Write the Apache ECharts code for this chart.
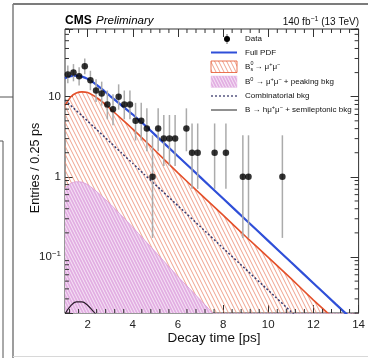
<!DOCTYPE html>
<html>
<head>
<meta charset="utf-8">
<script src="https://cdn.jsdelivr.net/npm/echarts@6.0.0/dist/echarts.min.js"></script>
<style>
  html, body { margin: 0; padding: 0; background: #fff; }
  #chart { width: 368px; height: 358px; }
</style>
</head>
<body>
<div id="chart"></div>
<script>
// Binned data: bin centres (0.25 ps bins) and entries per bin
const binCentres = [1.125, 1.375, 1.625, 1.875, 2.125, 2.375, 2.625, 2.875, 3.125, 3.375,
                    3.625, 3.875, 4.125, 4.375, 4.625, 4.875, 5.125, 5.375, 5.625, 5.875,
                    6.375, 6.625, 6.875, 7.625, 8.125, 8.875, 9.125, 10.625];
const entries = [19, 20, 18, 24, 16, 12, 11, 8, 7, 10,
                 8, 8, 5, 5, 4, 1, 4, 3, 3, 3,
                 4, 2, 2, 2, 2, 1, 1, 1];
// 68% Poisson interval of each bin
const errLow = [14.72, 15.57, 13.77, 19.13, 12.06, 8.585, 7.734, 5.232, 4.419, 6.891,
                5.232, 5.232, 2.840, 2.840, 2.086, 0.173, 2.086, 1.367, 1.367, 1.367,
                2.086, 0.708, 0.708, 0.708, 0.708, 0.173, 0.173, 0.173];
const errHigh = [24.44, 25.54, 23.33, 29.97, 21.08, 16.56, 15.42, 11.95, 10.77, 14.27,
                 11.95, 11.95, 8.382, 8.382, 7.163, 3.300, 7.163, 5.918, 5.918, 5.918,
                 7.163, 4.638, 4.638, 4.638, 4.638, 3.300, 3.300, 3.300];

// Fit components, sampled along the decay time
const pdfTime       = [1, 1.25, 1.5, 1.75, 2, 2.25, 2.5, 2.75, 3, 3.5, 4, 4.5, 5, 6, 7, 8, 9, 10, 11, 12, 13, 14];
const fullPdf       = [17.0, 18.0, 18.3, 17.8, 16.7, 15.1, 13.4, 11.7, 10.2, 7.8, 6.0, 4.5, 3.32,
                       1.81, 0.985, 0.536, 0.292, 0.159, 0.0865, 0.0471, 0.0256, 0.0140];
const bsSignal      = [7.8, 9.9, 11.1, 11.5, 11.3, 10.4, 9.3, 8.2, 7.1, 5.3, 3.95, 2.9, 2.12,
                       1.12, 0.61, 0.333, 0.18, 0.099, 0.054, 0.029, 0.016, 0.0087];
const b0Peaking     = [0.72, 0.83, 0.87, 0.86, 0.80, 0.71, 0.62, 0.535, 0.46, 0.33, 0.235, 0.165, 0.116,
                       0.057, 0.029, 0.0145, 0.0073, 0.0037, 0.0018, 0.0009, 0.00046, 0.00023];
const combinatorial = [9.1, 7.8, 6.7, 5.8, 4.97, 4.27, 3.67, 3.15, 2.70, 1.99, 1.47, 1.08, 0.80,
                       0.436, 0.238, 0.129, 0.0705, 0.0384, 0.0209, 0.0114, 0.0062, 0.0034];
const semilepTime   = [1, 1.25, 1.5, 1.75, 2, 2.25, 2.5];
const semileptonic  = [0.0195, 0.0245, 0.0275, 0.0275, 0.025, 0.021, 0.0175];

// Axis ticks
const xMajorTicks = [2, 4, 6, 8, 10, 12, 14];
const X_MIN = 1, X_MAX = 14, Y_MIN = 0.02, Y_MAX = 70;

const xMinorTicks = [];
for (let t = 1.2; t < X_MAX - 1e-6; t += 0.4) {
  const r = Math.round(t * 10) / 10;
  if (Math.abs(r / 2 - Math.round(r / 2)) > 1e-6) xMinorTicks.push(r);
}
const yMinorTicks = [];
for (let k = -2; k <= 1; k++) {
  for (let m = 2; m <= 9; m++) {
    const v = m * Math.pow(10, k);
    if (v >= Y_MIN - 1e-9 && v <= Y_MAX + 1e-9) yMinorTicks.push(v);
  }
}

const F = "'Liberation Sans', Arial, Helvetica, sans-serif";
const FRAME = '#333';
const LEG_FS = 8;

function pair(xs, ys) { return xs.map((x, i) => [x, ys[i]]); }

// Diagonal stripe tile used as a fill pattern
function stripeTile(w, h, stroke, lineWidth, bg) {
  const c = document.createElement('canvas');
  c.width = w; c.height = h;
  const g = c.getContext('2d');
  if (bg) { g.fillStyle = bg; g.fillRect(0, 0, w, h); }
  g.strokeStyle = stroke; g.lineWidth = lineWidth;
  for (const x0 of [-w, 0, w]) {
    g.beginPath(); g.moveTo(x0, 0); g.lineTo(x0 + w, h); g.stroke();
  }
  return c;
}
const redHatch = { image: stripeTile(4, 8, '#ec8a70', 0.8), repeat: 'repeat' };
const pinkHatch = { image: stripeTile(3, 6, '#f6e6f6', 1, '#e2aee2'), repeat: 'repeat' };

function yLabel(v) {
  const e = Math.log10(v);
  if (Math.abs(e - Math.round(e)) > 1e-6) return '';
  const k = Math.round(e);
  if (k === 0) return '1';
  if (k === 1) return '10';
  return '10{sup|' + String(k).replace('-', '\u2212') + '}';
}

function errorBar(params, api) {
  const t = api.value(0);
  const lo = api.coord([t, api.value(1)]);
  const hi = api.coord([t, api.value(2)]);
  return { type: 'line', shape: { x1: lo[0], y1: lo[1], x2: hi[0], y2: hi[1] },
           style: { stroke: '#ababab', lineWidth: 1.5 } };
}
function xMinorTick(params, api) {
  const t = api.value(0);
  const b = api.coord([t, Y_MIN]);
  const tp = api.coord([t, Y_MAX]);
  const st = { stroke: FRAME, lineWidth: 1 };
  return { type: 'group', children: [
    { type: 'line', shape: { x1: b[0], y1: b[1], x2: b[0], y2: b[1] - 4 }, style: st },
    { type: 'line', shape: { x1: tp[0], y1: tp[1], x2: tp[0], y2: tp[1] + 4 }, style: st }
  ] };
}
function yMinorTick(params, api) {
  const v = api.value(1);
  const l = api.coord([X_MIN, v]);
  const r = api.coord([X_MAX, v]);
  const st = { stroke: FRAME, lineWidth: 1 };
  return { type: 'group', children: [
    { type: 'line', shape: { x1: l[0], y1: l[1], x2: l[0] + 4, y2: l[1] }, style: st },
    { type: 'line', shape: { x1: r[0], y1: r[1], x2: r[0] - 4, y2: r[1] }, style: st }
  ] };
}

const supStyle = { fontSize: 5.6, fontFamily: F, fill: '#111', verticalAlign: 'top', lineHeight: 6 };
const legendText = (y, text) => ({
  type: 'text', x: 245, y: y,
  style: { text: text, fontSize: LEG_FS, fontFamily: F, fill: '#111', verticalAlign: 'middle',
           lineHeight: 11, rich: { sup: supStyle } }
});

const curveLine = { symbol: 'none', smooth: 0.15, clip: true };

const chart = echarts.init(document.getElementById('chart'), null, { renderer: 'canvas' });
chart.setOption({
  animation: false,
  textStyle: { fontFamily: F },
  grid: { left: 65, top: 29, width: 294, height: 284, show: true, borderColor: FRAME, borderWidth: 1,
          backgroundColor: 'transparent' },
  xAxis: [
    { type: 'value', min: X_MIN, max: X_MAX, position: 'bottom',
      axisLine: { show: false }, splitLine: { show: false },
      axisTick: { inside: true, length: 8, customValues: xMajorTicks, lineStyle: { color: FRAME } },
      axisLabel: { customValues: xMajorTicks, fontSize: 11.5, color: '#222', margin: 6, fontFamily: F } },
    { type: 'value', min: X_MIN, max: X_MAX, position: 'top',
      axisLine: { show: false }, splitLine: { show: false },
      axisTick: { inside: true, length: 8, customValues: xMajorTicks, lineStyle: { color: FRAME } },
      axisLabel: { show: false } }
  ],
  yAxis: [
    { type: 'log', logBase: 10, min: Y_MIN, max: Y_MAX, position: 'left',
      axisLine: { show: false }, splitLine: { show: false },
      axisTick: { inside: true, length: 8, lineStyle: { color: FRAME } },
      axisLabel: { formatter: yLabel, fontSize: 11.5, color: '#222', margin: 4, fontFamily: F, lineHeight: 14,
                   rich: { sup: { fontSize: 8, fontFamily: F, color: '#222', verticalAlign: 'top', lineHeight: 8 } } } },
    { type: 'log', logBase: 10, min: Y_MIN, max: Y_MAX, position: 'right',
      axisLine: { show: false }, splitLine: { show: false },
      axisTick: { inside: true, length: 8, lineStyle: { color: FRAME } },
      axisLabel: { show: false } }
  ],
  series: [
    Object.assign({ name: 'Bs signal', type: 'line', data: pair(pdfTime, bsSignal), z: 2,
      lineStyle: { color: '#e4502a', width: 1.6 },
      areaStyle: { origin: 'start', color: redHatch, opacity: 1 } }, curveLine),
    Object.assign({ name: 'B0 peaking', type: 'line', data: pair(pdfTime, b0Peaking), z: 3,
      lineStyle: { color: '#d898d8', width: 0.8 },
      areaStyle: { origin: 'start', color: pinkHatch, opacity: 1 } }, curveLine),
    Object.assign({ name: 'Combinatorial', type: 'line', data: pair(pdfTime, combinatorial), z: 4,
      lineStyle: { color: '#3c3c6e', width: 1.5, type: [2, 2] } }, curveLine),
    { name: 'Semileptonic', type: 'line', data: pair(semilepTime, semileptonic), symbol: 'none',
      smooth: 0.4, clip: true, z: 4,
      lineStyle: { color: '#2a1a2a', width: 1.2 } },
    Object.assign({ name: 'Full PDF', type: 'line', data: pair(pdfTime, fullPdf), z: 5,
      lineStyle: { color: '#2f4fd8', width: 2.2 } }, curveLine),
    { name: 'Data errors', type: 'custom', renderItem: errorBar, clip: true, z: 6,
      data: binCentres.map((t, i) => [t, errLow[i], errHigh[i]]), encode: { x: 0, y: [1, 2] } },
    { name: 'Data', type: 'scatter', data: pair(binCentres, entries), symbolSize: 6.5, z: 7,
      itemStyle: { color: '#000' } },
    { type: 'custom', renderItem: xMinorTick, z: 8, silent: true,
      data: xMinorTicks.map(t => [t, 1]), encode: { x: 0, y: 1 } },
    { type: 'custom', renderItem: yMinorTick, z: 8, silent: true,
      data: yMinorTicks.map(v => [X_MIN, v]), encode: { x: 0, y: 1 } }
  ],
  graphic: [
    // page frame
    { type: 'line', shape: { x1: 13, y1: 4, x2: 368, y2: 4 }, style: { stroke: '#7c7c7c', lineWidth: 2 } },
    { type: 'line', shape: { x1: 13, y1: 4, x2: 13, y2: 358 }, style: { stroke: '#7c7c7c', lineWidth: 1.5 } },
    { type: 'line', shape: { x1: 0, y1: 97, x2: 13, y2: 97 }, style: { stroke: '#555', lineWidth: 1 } },
    { type: 'line', shape: { x1: 0, y1: 141, x2: 3, y2: 141 }, style: { stroke: '#555', lineWidth: 1 } },
    { type: 'line', shape: { x1: 3, y1: 141, x2: 3, y2: 358 }, style: { stroke: '#555', lineWidth: 1 } },
    { type: 'line', shape: { x1: 13, y1: 356.5, x2: 368, y2: 356.5 }, style: { stroke: '#d8d8d8', lineWidth: 1 } },

    // headline
    { type: 'text', x: 65, y: 21, style: { text: 'CMS', fontSize: 12, fontWeight: 'bold', fontFamily: F,
      fill: '#000', verticalAlign: 'middle' } },
    { type: 'text', x: 96, y: 21, style: { text: 'Preliminary', fontSize: 11.5, fontStyle: 'italic', fontFamily: F,
      fill: '#000', verticalAlign: 'middle' } },
    { type: 'text', x: 359, y: 22, style: { text: '140 fb{sup|\u22121} (13 TeV)', fontSize: 10, fontFamily: F,
      fill: '#111', align: 'right', verticalAlign: 'middle', lineHeight: 12,
      rich: { sup: { fontSize: 7, fontFamily: F, fill: '#111', verticalAlign: 'top', lineHeight: 7 } } } },

    // axis titles
    { type: 'text', x: 214, y: 338, style: { text: 'Decay time [ps]', fontSize: 13.5, fontFamily: F,
      fill: '#111', align: 'center', verticalAlign: 'middle' } },
    { type: 'text', x: 36, y: 168, rotation: Math.PI / 2, style: { text: 'Entries / 0.25 ps', fontSize: 12.5,
      fontFamily: F, fill: '#111', align: 'center', verticalAlign: 'middle' } },

    // legend markers
    { type: 'line', shape: { x1: 227, y1: 34, x2: 227, y2: 44 }, style: { stroke: '#666', lineWidth: 1 } },
    { type: 'circle', shape: { cx: 227, cy: 39, r: 3 }, style: { fill: '#000' } },
    { type: 'line', shape: { x1: 211, y1: 52.5, x2: 237, y2: 52.5 }, style: { stroke: '#2f4fd8', lineWidth: 2 } },
    { type: 'rect', shape: { x: 211, y: 61, width: 26, height: 11.5 },
      style: { fill: redHatch, stroke: '#e4502a', lineWidth: 0.8 } },
    { type: 'rect', shape: { x: 211, y: 76, width: 26, height: 11.5 },
      style: { fill: pinkHatch, stroke: '#e8c0e8', lineWidth: 0.5 } },
    { type: 'line', shape: { x1: 211, y1: 96, x2: 237, y2: 96 }, style: { stroke: '#3c3c6e', lineWidth: 1.3, lineDash: [2, 2] } },
    { type: 'line', shape: { x1: 211, y1: 110, x2: 237, y2: 110 }, style: { stroke: '#222', lineWidth: 1 } },

    // legend texts
    legendText(39, 'Data'),
    legendText(52.5, 'Full PDF'),
    { type: 'text', x: 245, y: 66.5, style: { text: 'B', fontSize: LEG_FS, fontFamily: F, fill: '#111', verticalAlign: 'middle' } },
    { type: 'text', x: 250.4, y: 63.6, style: { text: '0', fontSize: 5.4, fontFamily: F, fill: '#111', verticalAlign: 'middle' } },
    { type: 'text', x: 250.4, y: 69.4, style: { text: 's', fontSize: 5.4, fontFamily: F, fill: '#111', verticalAlign: 'middle' } },
    { type: 'text', x: 254.4, y: 66.5, style: { text: '\u2192 \u03bc{sup|+}\u03bc{sup|\u2212}', fontSize: LEG_FS, fontFamily: F,
      fill: '#111', verticalAlign: 'middle', lineHeight: 11, rich: { sup: supStyle } } },
    legendText(81.5, 'B{sup|0} \u2192 \u03bc{sup|+}\u03bc{sup|\u2212} + peaking bkg'),
    legendText(96, 'Combinatorial bkg'),
    legendText(110, 'B \u2192 h\u03bc{sup|+}\u03bc{sup|\u2212} + semileptonic bkg')
  ]
});
</script>
</body>
</html>
